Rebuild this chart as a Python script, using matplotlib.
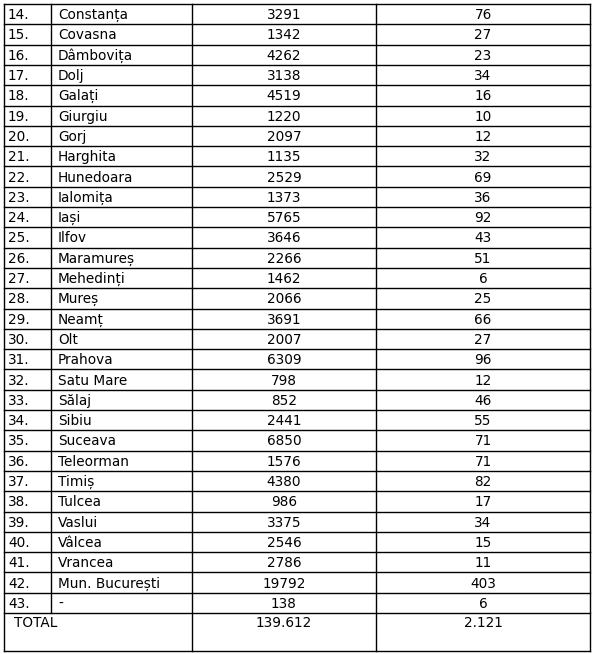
import matplotlib
matplotlib.use("Agg")
import matplotlib.pyplot as plt

nums = [f"{i}." for i in range(14, 44)]
names = ["Constanța","Covasna","Dâmbovița","Dolj","Galați","Giurgiu","Gorj","Harghita",
         "Hunedoara","Ialomița","Iași","Ilfov","Maramureș","Mehedinți","Mureș","Neamț","Olt",
         "Prahova","Satu Mare","Sălaj","Sibiu","Suceava","Teleorman","Timiș","Tulcea","Vaslui",
         "Vâlcea","Vrancea","Mun. București","-"]
col1 = ["3291","1342","4262","3138","4519","1220","2097","1135","2529","1373","5765","3646",
        "2266","1462","2066","3691","2007","6309","798","852","2441","6850","1576","4380","986",
        "3375","2546","2786","19792","138"]
col2 = ["76","27","23","34","16","10","12","32","69","36","92","43","51","6","25","66","27",
        "96","12","46","55","71","71","82","17","34","15","11","403","6"]
total_label = "TOTAL"
totals = ["139.612", "2.121"]

fig = plt.figure(figsize=(5.94, 6.54), dpi=100)
ax = fig.add_axes([0, 0, 1, 1])
ax.set_xlim(0, 594); ax.set_ylim(654, 0); ax.axis("off")

top, rh = 4, 20.3
xs = [4, 51, 192, 376, 590]
n = len(nums)
bottom_rows = top + n * rh
bottom = 651
lw = 1.0
for i in range(n + 1):
    y = top + i * rh
    ax.plot([xs[0], xs[-1]], [y, y], color="black", lw=lw)
ax.plot([xs[0], xs[-1]], [bottom, bottom], color="black", lw=lw)
for x in [xs[0], xs[2], xs[3], xs[4]]:
    ax.plot([x, x], [top, bottom], color="black", lw=lw)
ax.plot([xs[1], xs[1]], [top, bottom_rows], color="black", lw=lw)

fs = 9.8
for i in range(n):
    yc = top + (i + 0.55) * rh
    ax.text(8, yc, nums[i], fontsize=fs, va="center", ha="left")
    ax.text(58, yc, names[i], fontsize=fs, va="center", ha="left")
    ax.text((xs[2] + xs[3]) / 2, yc, col1[i], fontsize=fs, va="center", ha="center")
    ax.text((xs[3] + xs[4]) / 2, yc, col2[i], fontsize=fs, va="center", ha="center")
yt = bottom_rows + 10
ax.text(14, yt, total_label, fontsize=fs, va="center", ha="left")
ax.text((xs[2] + xs[3]) / 2, yt, totals[0], fontsize=fs, va="center", ha="center")
ax.text((xs[3] + xs[4]) / 2, yt, totals[1], fontsize=fs, va="center", ha="center")

fig.savefig("out.png", dpi=100)
